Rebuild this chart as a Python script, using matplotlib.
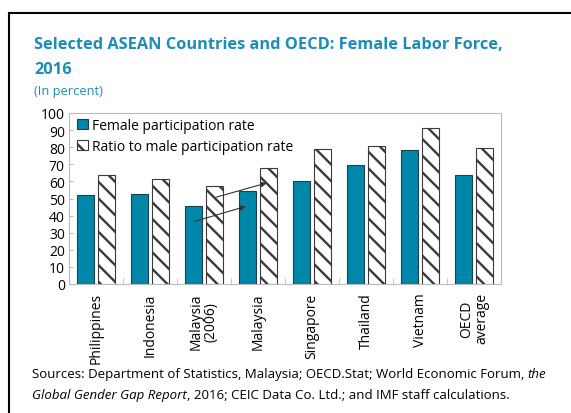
import numpy as np
import matplotlib.pyplot as plt
from matplotlib.lines import Line2D

plt.rcParams['font.family'] = ['Open Sans', 'DejaVu Sans']
plt.rcParams['hatch.linewidth'] = 1.7

# Datos
countries = ['Philippines', 'Indonesia', 'Malaysia\n(2006)', 'Malaysia',
             'Singapore', 'Thailand', 'Vietnam', 'OECD\naverage']
female_rate = [51.8, 52.7, 45.5, 54.1, 60.0, 69.6, 78.6, 63.5]
ratio_male = [63.8, 61.4, 57.3, 67.7, 79.0, 80.9, 91.4, 79.4]

teal = '#0087A9'
title_col = '#1B8DB8'

fig = plt.figure(figsize=(5.71, 4.14), dpi=100)
ax = fig.add_axes([69 / 571, 1 - 285 / 414, 432 / 571, 171 / 414])

x = np.arange(len(countries))
w = 0.31
ax.bar(x - 0.195, female_rate, w, color=teal, edgecolor='#1f3f4a', linewidth=0.8,
       label='Female participation rate', zorder=3)
ax.bar(x + 0.195, ratio_male, w, color='white', edgecolor='#3a3a3a', hatch='\\\\',
       linewidth=0.8, label='Ratio to male participation rate', zorder=3)

ax.set_xlim(-0.5, len(countries) - 0.5)
ax.set_ylim(0, 100)
ax.set_yticks(range(0, 101, 10))
ax.set_xticks(x)
ax.set_xticklabels(countries, rotation=90, fontsize=10, linespacing=1.0)
ax.tick_params(axis='x', length=0, pad=6)
ax.tick_params(axis='y', labelsize=10, length=3, direction='in', color='#bbbbbb', pad=3)
ax.set_xticks(np.arange(0.5, len(countries) - 0.5), minor=True)
ax.tick_params(axis='x', which='minor', length=4, direction='in', color='#bbbbbb')
for s in ax.spines.values():
    s.set_color('#bbbbbb')
    s.set_linewidth(0.8)

# Flechas
ax.annotate('', xy=(2.82, 45.8), xytext=(1.77, 36.1),
            arrowprops=dict(arrowstyle='-|>', color='#333333', lw=0.8, mutation_scale=8))
ax.annotate('', xy=(3.21, 59.5), xytext=(2.17, 50.3),
            arrowprops=dict(arrowstyle='-|>', color='#333333', lw=0.8, mutation_scale=8))

leg = ax.legend(loc='upper left', bbox_to_anchor=(-0.01, 1.045), frameon=False, fontsize=10,
                handlelength=0.75, handleheight=0.75, handletextpad=0.3, labelspacing=0.45)

# Textos
fig.text(34 / 571, 1 - 45 / 414, 'Selected ASEAN Countries and OECD: Female Labor Force,',
         fontsize=11.8, fontweight='bold', color=title_col, va='center')
fig.text(34 / 571, 1 - 70 / 414, '2016',
         fontsize=11.8, fontweight='bold', color=title_col, va='center')
fig.text(34 / 571, 1 - 92 / 414, '(In percent)', fontsize=9.3, color=title_col, va='center')


def run_text(parts, x0, y):
    # escribe trozos seguidos, normal o cursiva
    renderer = fig.canvas.get_renderer()
    xx = x0
    for txt, style in parts:
        t = fig.text(xx, y, txt, fontsize=9.5, style=style, va='center')
        bb = t.get_window_extent(renderer)
        xx += bb.width / fig.bbox.width


run_text([('Sources: Department of Statistics, Malaysia; OECD.Stat; World Economic Forum, ', 'normal'),
          ('the', 'italic')], 32 / 571, 1 - 375 / 414)
run_text([('Global Gender Gap Report', 'italic'),
          (', 2016; CEIC Data Co. Ltd.; and IMF staff calculations.', 'normal')],
         32 / 571, 1 - 396 / 414)

# Marco
fig.add_artist(Line2D([9 / 571, 1], [1 - 14 / 414] * 2, color='black', lw=1.5,
                      transform=fig.transFigure))
fig.add_artist(Line2D([9 / 571] * 2, [0, 1 - 14 / 414], color='black', lw=1.5,
                      transform=fig.transFigure))

fig.savefig('out.png', dpi=100)
